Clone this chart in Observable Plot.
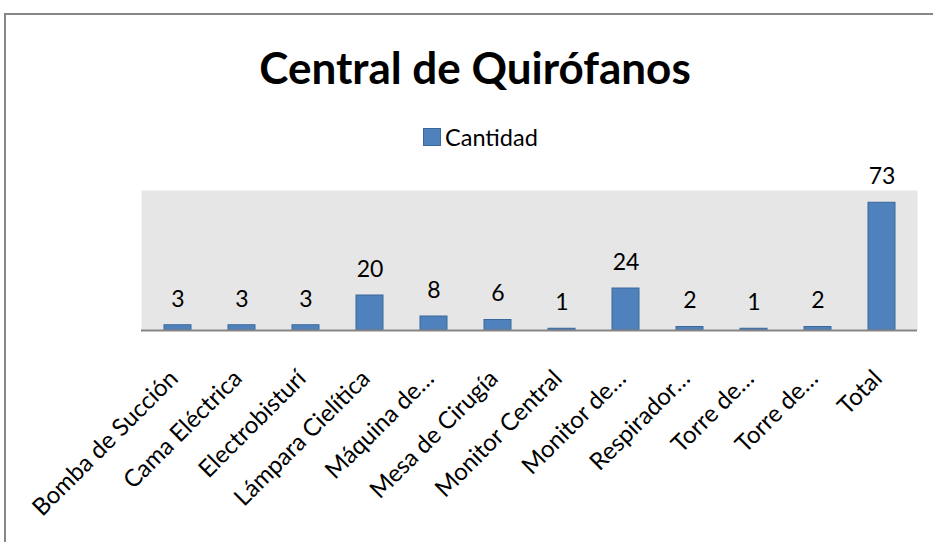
<!DOCTYPE html>
<html><head><meta charset="utf-8">
<script src="https://cdn.jsdelivr.net/npm/d3@7"></script>
<script src="https://cdn.jsdelivr.net/npm/@observablehq/plot@0.6"></script>
<style>
body{margin:0;background:#fff;overflow:hidden;font-family:Lato,"Open Sans",sans-serif;width:933px;height:542px;position:relative}
#frame{position:absolute;left:4px;top:13px;width:1000px;height:1000px;border:2px solid #878787}
#title{position:absolute;top:42px;left:0;width:950px;text-align:center;font-weight:bold;font-size:44px;color:#000;line-height:50px}
#legend{position:absolute;left:423px;top:123px;font-size:23.5px;color:#000;display:flex;align-items:center;line-height:28px}
#legend span.sw{display:inline-block;width:16px;height:16px;background:#4F81BD;border:1px solid #3A679C;margin-right:4px}
#chart{position:absolute;left:0;top:160px}
</style></head>
<body>
<div id="frame"></div>
<div id="title">Central de Quirófanos</div>
<div id="legend"><span class="sw"></span><span>Cantidad</span></div>
<div id="chart"></div>
<script>
const categories = ["Bomba de Succión","Cama Eléctrica","Electrobisturí","Lámpara Cielítica","Máquina de…","Mesa de Cirugía","Monitor Central","Monitor de…","Respirador…","Torre de…","Torre de…","Total"];
const values = [3,3,3,20,8,6,1,24,2,1,2,73];
const data = categories.map((c,i)=>({i, c, v: values[i]}));

const chart = Plot.plot({
  width: 933,
  height: 382,
  marginTop: 30,
  marginBottom: 212,
  marginLeft: 141,
  marginRight: 16,
  style: {fontFamily: "Lato, 'Open Sans', sans-serif", overflow: "visible"},
  x: {type: "band", domain: d3.range(categories.length), paddingInner: 0.58, paddingOuter: 0.29},
  y: {domain: [0, 80], axis: null},
  marks: [
    Plot.frame({fill: "#e6e6e6", stroke: null}),
    Plot.barY(data, {x: "i", y: "v", fill: "#4F81BD", stroke: "#3A679C", strokeWidth: 1}),
    Plot.ruleY([0], {stroke: "#868686", strokeWidth: 2}),
    Plot.text(data, {x: "i", y: "v", text: d => String(d.v), dy: -26, fontSize: 23, fill: "#000"}),
    Plot.axisX({tickSize: 0, tickPadding: 28, dx: -4, dy: 16, tickRotate: -45, fontSize: 24, label: null, tickFormat: i => categories[i], fill: "#000"})
  ]
});
document.getElementById("chart").appendChild(chart);
</script>
</body></html>
